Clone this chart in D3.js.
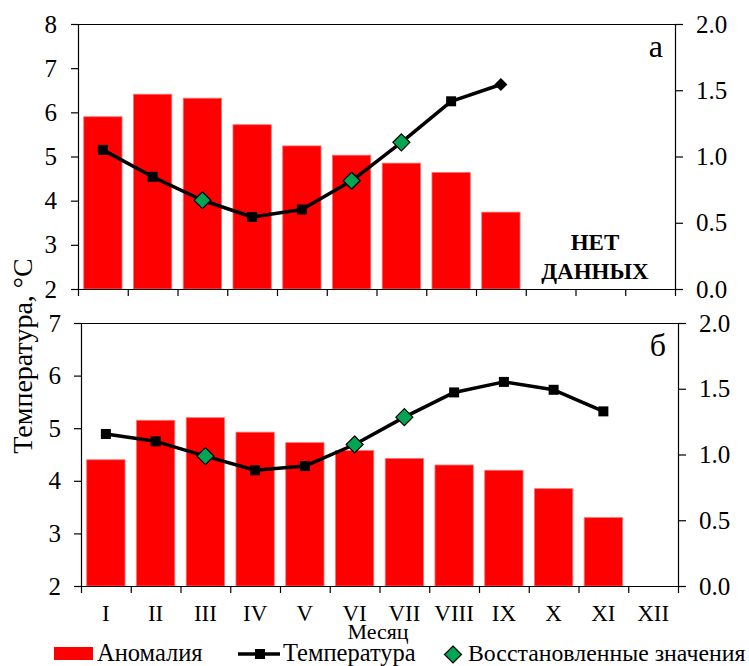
<!DOCTYPE html>
<html><head><meta charset="utf-8">
<script src="https://cdn.jsdelivr.net/npm/d3@7"></script>
<style>body{margin:0;background:#fff}svg{display:block}</style>
</head><body><svg id="c" width="749" height="666"></svg>
<script>
const months = ["I","II","III","IV","V","VI","VII","VIII","IX","X","XI","XII"];
const anomA = [1.30,1.47,1.44,1.24,1.08,1.01,0.95,0.88,0.58];
const tempA = [5.15,4.54,4.01,3.63,3.80,4.45,5.32,6.25,6.63];
const markA = ["s","s","d","s","s","d","d","s","k"];
const anomB = [0.96,1.26,1.28,1.17,1.09,1.03,0.97,0.92,0.88,0.74,0.52];
const tempB = [4.89,4.75,4.47,4.20,4.28,4.69,5.21,5.68,5.88,5.73,5.32];
const markB = ["s","s","d","s","s","d","d","s","s","s","s"];
const leftTicksA = [2,3,4,5,6,7,8];
const leftTicksB = [2,3,4,5,6,7];
const rightTicks = [0,0.5,1.0,1.5,2.0];

const FONT = "'Liberation Serif', 'Times New Roman', Tinos, 'DejaVu Serif', serif";
const svg = d3.select("#c");
const RED = "#ff0000", GREEN = "#00a651";

function txt(sel, size, weight){
  return sel.style("font-family",FONT).style("font-size",size+"px").style("font-weight",weight||"normal").attr("fill","#000");
}

function panel(cfg){
  const {x0,x1,y0,y1,anom,temp,mark,lTicks,label,showX,lpad} = cfg;
  const g = svg.append("g");
  const xb = d3.scaleBand().domain(months).range([x0,x1]).paddingInner(0.23).paddingOuter(0.115);
  const yl = d3.scaleLinear().domain([lTicks[0], lTicks[lTicks.length-1]]).range([y1,y0]);
  const yr = d3.scaleLinear().domain([0,2]).range([y1,y0]);
  g.selectAll("rect.bar").data(anom).join("rect")
    .attr("x",(d,i)=>xb(months[i])).attr("width",xb.bandwidth())
    .attr("y",d=>yr(d)).attr("height",d=>y1-yr(d))
    .attr("fill",RED).attr("stroke","#ff7070").attr("stroke-width",0.8);
  g.append("line").attr("x1",x0).attr("x2",x1).attr("y1",y0+0.5).attr("y2",y0+0.5).attr("stroke","#000").attr("stroke-width",1.2);
  const la = g.append("g").attr("transform",`translate(${x0},0)`)
    .call(d3.axisLeft(yl).tickValues(lTicks).tickSize(7).tickSizeOuter(0).tickPadding(lpad).tickFormat(d3.format("d")));
  txt(la.selectAll("text"),25);
  const ra = g.append("g").attr("transform",`translate(${x1},0)`)
    .call(d3.axisRight(yr).tickValues(rightTicks).tickSize(8).tickSizeOuter(0).tickPadding(13).tickFormat(d3.format(".1f")));
  txt(ra.selectAll("text"),25);
  const bx = d3.scaleLinear().domain([0,12]).range([x0,x1]);
  g.append("g").attr("transform",`translate(0,${y1})`)
    .call(d3.axisBottom(bx).tickValues(d3.range(13)).tickSize(7).tickSizeOuter(0).tickFormat(""));
  g.selectAll(".domain").attr("stroke-width",1.2);
  g.selectAll(".tick line").attr("stroke-width",1.2);
  if(showX){
    txt(g.selectAll("text.xl").data(months).join("text").attr("class","xl")
      .attr("x",d=>xb(d)+xb.bandwidth()/2).attr("y",y1+35)
      .attr("text-anchor","middle").text(d=>d),23);
  }
  const pts = temp.map((v,i)=>[xb(months[i])+xb.bandwidth()/2, yl(v)]);
  g.append("path").attr("d",d3.line()(pts)).attr("fill","none").attr("stroke","#000").attr("stroke-width",3.5).attr("stroke-linejoin","round");
  pts.forEach((p,i)=>{
    const m = mark[i];
    if(m==="s"){
      g.append("rect").attr("x",p[0]-5).attr("y",p[1]-5).attr("width",10).attr("height",10).attr("fill","#000");
    } else if(m==="d"){
      g.append("path").attr("d",`M${p[0]},${p[1]-8.5}L${p[0]+8.5},${p[1]}L${p[0]},${p[1]+8.5}L${p[0]-8.5},${p[1]}Z`)
        .attr("fill",GREEN).attr("stroke","#000").attr("stroke-width",1.2);
    } else {
      g.append("path").attr("d",`M${p[0]},${p[1]-6.5}L${p[0]+6.5},${p[1]}L${p[0]},${p[1]+6.5}L${p[0]-6.5},${p[1]}Z`)
        .attr("fill","#000");
    }
  });
  txt(g.append("text").attr("x",x1-12).attr("y",y0+33).attr("text-anchor","end").text(label),32);
}

panel({x0:78,x1:675,y0:24,y1:289,anom:anomA,temp:tempA,mark:markA,lTicks:leftTicksA,label:"а",showX:false,lpad:14});
panel({x0:81,x1:678,y0:323,y1:586,anom:anomB,temp:tempB,mark:markB,lTicks:leftTicksB,label:"б",showX:true,lpad:13});

const nd = txt(svg.append("text").attr("text-anchor","middle"),23,"bold");
nd.append("tspan").attr("x",595).attr("y",250).text("НЕТ");
nd.append("tspan").attr("x",595).attr("y",279).text("ДАННЫХ");

txt(svg.append("text").attr("transform","translate(32,356) rotate(-90)").attr("text-anchor","middle").text("Температура, °C"),28);
txt(svg.append("text").attr("x",378).attr("y",639).attr("text-anchor","middle").text("Месяц"),22);

const lg = svg.append("g");
lg.append("rect").attr("x",54).attr("y",647).attr("width",39).attr("height",13).attr("fill",RED);
txt(lg.append("text").attr("x",97).attr("y",661).text("Аномалия"),24.5);
lg.append("line").attr("x1",238).attr("x2",280).attr("y1",654).attr("y2",654).attr("stroke","#000").attr("stroke-width",3.5);
lg.append("rect").attr("x",255).attr("y",649).attr("width",10).attr("height",10).attr("fill","#000");
txt(lg.append("text").attr("x",283).attr("y",661).text("Температура"),24.5);
lg.append("path").attr("d","M453,646L461.5,654.5L453,663L444.5,654.5Z").attr("fill",GREEN).attr("stroke","#000").attr("stroke-width",1.2);
txt(lg.append("text").attr("x",468).attr("y",661).text("Восстановленные значения"),23.8);
</script></body></html>
